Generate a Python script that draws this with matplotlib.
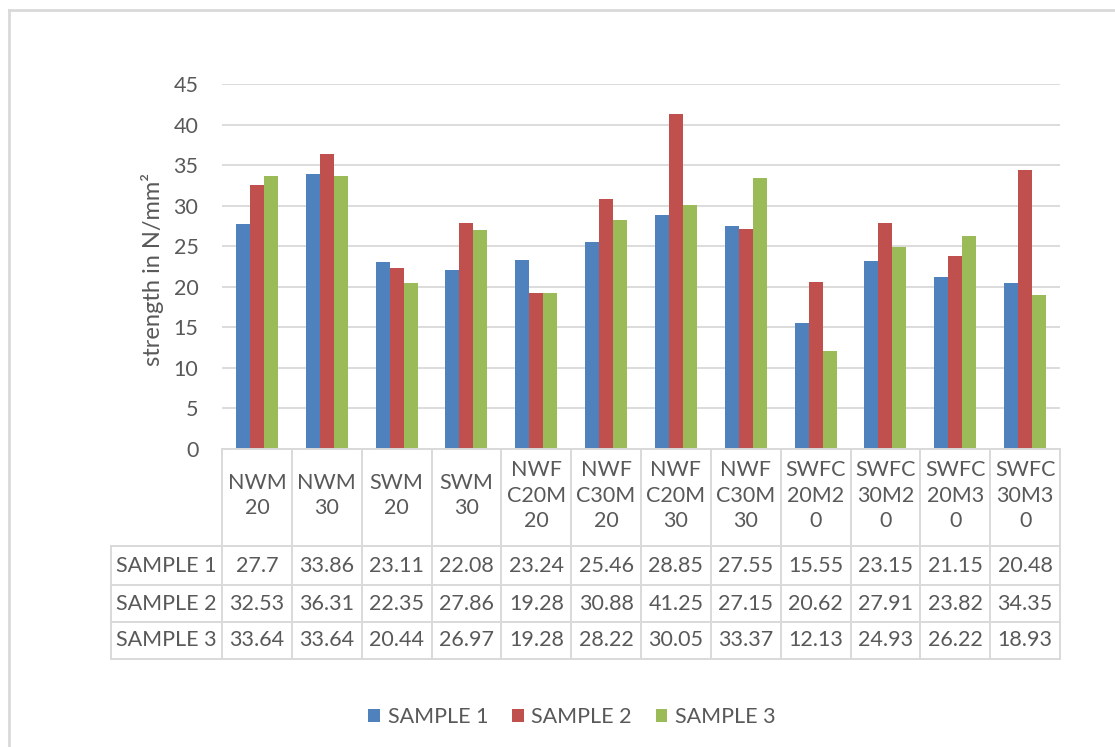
import matplotlib
matplotlib.use("Agg")
import matplotlib.pyplot as plt
from matplotlib.transforms import blended_transform_factory
from matplotlib.lines import Line2D
from matplotlib.patches import Patch
import numpy as np

categories = ["NWM\n20", "NWM\n30", "SWM\n20", "SWM\n30",
              "NWF\nC20M\n20", "NWF\nC30M\n20", "NWF\nC20M\n30", "NWF\nC30M\n30",
              "SWFC\n20M2\n0", "SWFC\n30M2\n0", "SWFC\n20M3\n0", "SWFC\n30M3\n0"]
series_names = ["SAMPLE 1", "SAMPLE 2", "SAMPLE 3"]
sample1 = [27.7, 33.86, 23.11, 22.08, 23.24, 25.46, 28.85, 27.55, 15.55, 23.15, 21.15, 20.48]
sample2 = [32.53, 36.31, 22.35, 27.86, 19.28, 30.88, 41.25, 27.15, 20.62, 27.91, 23.82, 34.35]
sample3 = [33.64, 33.64, 20.44, 26.97, 19.28, 28.22, 30.05, 33.37, 12.13, 24.93, 26.22, 18.93]
yticks = [0, 5, 10, 15, 20, 25, 30, 35, 40, 45]
ylabel = "strength in N/mm²"

colors = ["#4F81BD", "#C0504D", "#9BBB59"]
txt = "#595959"
grid = "#D9D9D9"
FONT = "Lato"
FS = 15.5

W, H = 1115, 747
plt.rcParams['font.family'] = [FONT, 'DejaVu Sans']

fig = plt.figure(figsize=(W / 100, H / 100), dpi=100)

def fy(y):
    return 1 - y / H

def fx(x):
    return x / W

ax_left, ax_right, ax_top, ax_bot = 222, 1060, 84, 449
ax = fig.add_axes([fx(ax_left), fy(ax_bot), fx(ax_right - ax_left), (ax_bot - ax_top) / H])

n = len(categories)
x = np.arange(n)
bw = 0.2
data = [sample1, sample2, sample3]
for i, (vals, c) in enumerate(zip(data, colors)):
    ax.bar(x + (i - 1) * bw, vals, width=bw, color=c, zorder=3, linewidth=0)

ax.set_xlim(-0.5, n - 0.5)
ax.set_ylim(0, 45)
ax.set_yticks(yticks)
ax.set_yticklabels([str(t) for t in yticks], fontsize=FS, color=txt)
ax.tick_params(axis='y', length=0, pad=17)
ax.set_xticks([])
for s in ax.spines.values():
    s.set_visible(False)
ax.yaxis.grid(True, color=grid, linewidth=1.3, zorder=0)
ax.set_axisbelow(True)

fig.text(fx(153), fy(269), ylabel, rotation=90, ha='center', va='center',
         fontsize=17, color=txt)

# data table
tr = blended_transform_factory(ax.transData, fig.transFigure)
lc = "#D9D9D9"
lw = 1.4
y_top, y_head, y_r1, y_r2, y_r3 = 449, 546, 585, 622, 659
table_left_px = 111

for yy in [y_top]:
    fig.add_artist(Line2D([-0.5, n - 0.5], [fy(yy), fy(yy)], transform=tr, color=lc, lw=lw))
for yy in [y_head, y_r1, y_r2, y_r3]:
    fig.add_artist(Line2D([fx(table_left_px), fx(ax_right)], [fy(yy), fy(yy)],
                          transform=fig.transFigure, color=lc, lw=lw))
for k in range(n + 1):
    fig.add_artist(Line2D([k - 0.5, k - 0.5], [fy(y_top), fy(y_r3)], transform=tr, color=lc, lw=lw))
fig.add_artist(Line2D([fx(table_left_px), fx(table_left_px)], [fy(y_head), fy(y_r3)],
                      transform=fig.transFigure, color=lc, lw=lw))

for k, cat in enumerate(categories):
    fig.text(k, fy((y_top + y_head) / 2 - 2), cat, transform=tr, ha='center', va='center',
             fontsize=FS, color=txt, linespacing=1.35)

row_bounds = [(y_head, y_r1), (y_r1, y_r2), (y_r2, y_r3)]
for name, vals, (a, b) in zip(series_names, data, row_bounds):
    yc = fy((a + b) / 2)
    fig.text(fx(116), yc, name, ha='left', va='center', fontsize=FS, color=txt)
    for k, v in enumerate(vals):
        fig.text(k, yc, f"{v:g}", transform=tr, ha='center', va='center', fontsize=FS, color=txt)

# legend
handles = [Patch(facecolor=c, edgecolor='none') for c in colors]
fig.legend(handles, series_names, loc='center', bbox_to_anchor=(fx(572), fy(717)),
           ncol=3, frameon=False, fontsize=FS, labelcolor=txt,
           handlelength=0.55, handleheight=0.55, handletextpad=0.35, columnspacing=1.1)

# chart area frame (left and top edges)
fig.add_artist(Line2D([fx(9), fx(9)], [fy(10), 0], transform=fig.transFigure, color=lc, lw=2))
fig.add_artist(Line2D([fx(9), 1], [fy(10), fy(10)], transform=fig.transFigure, color=lc, lw=2))

fig.savefig("out.png", dpi=100)
